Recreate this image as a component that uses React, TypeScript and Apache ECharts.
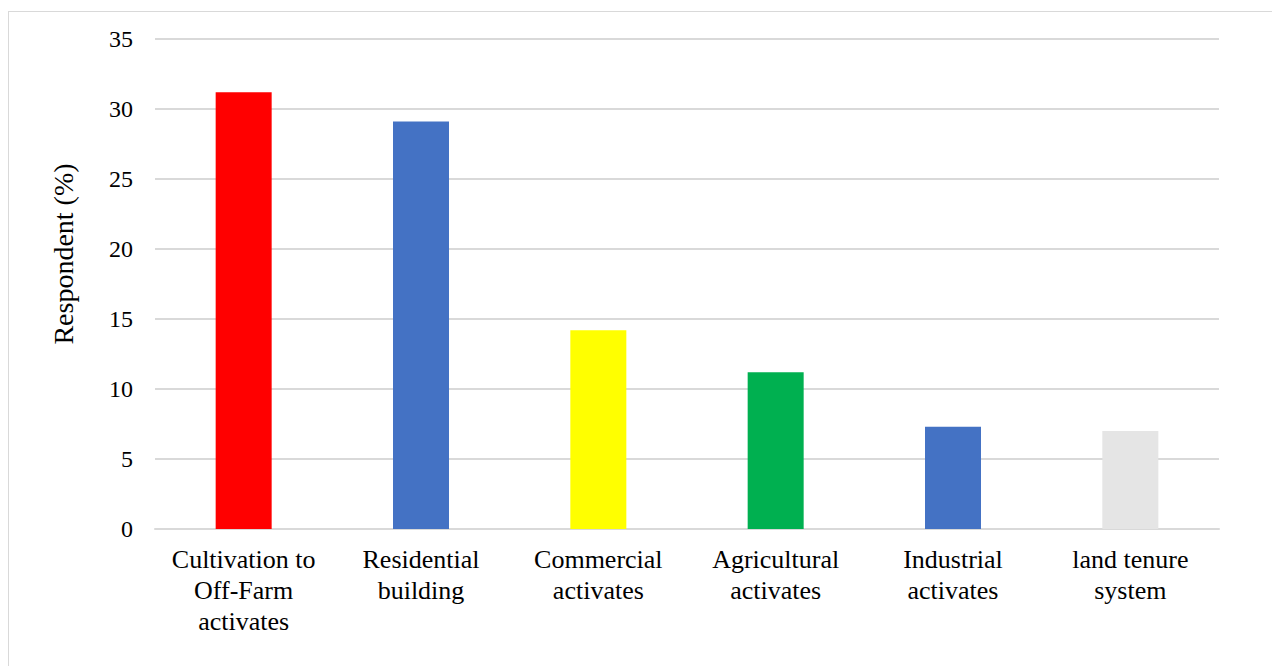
import React, { useEffect, useRef } from "react";
import * as echarts from "echarts";

const categories = [
  "Cultivation to\nOff-Farm\nactivates",
  "Residential\nbuilding",
  "Commercial\nactivates",
  "Agricultural\nactivates",
  "Industrial\nactivates",
  "land tenure\nsystem",
];
const values = [31.2, 29.1, 14.2, 11.2, 7.3, 7.0];
const barColors = ["#FF0000", "#4472C4", "#FFFF00", "#00B050", "#4472C4", "#E5E5E5"];
const yTicks = { min: 0, max: 35, interval: 5 };
const yAxisTitle = "Respondent (%)";

const FONT = "'Liberation Serif', 'Times New Roman', serif";

export default function App() {
  const ref = useRef<HTMLDivElement>(null);
  useEffect(() => {
    if (!ref.current) return;
    const chart = echarts.init(ref.current, null, { renderer: "svg" });
    chart.setOption({
      animation: false,
      backgroundColor: "#ffffff",
      grid: { left: 146, right: 57, top: 27, bottom: 137, containLabel: false },
      graphic: [
        {
          type: "text",
          x: 54,
          y: 242,
          rotation: Math.PI / 2,
          style: {
            text: yAxisTitle,
            fill: "#000",
            font: `28px ${FONT}`,
            align: "center",
            verticalAlign: "middle",
          },
        },
      ],
      xAxis: {
        type: "category",
        data: categories,
        axisLine: { show: true, lineStyle: { color: "#d9d9d9", width: 2 } },
        axisTick: { show: false },
        axisLabel: {
          interval: 0,
          color: "#000",
          fontFamily: FONT,
          fontSize: 26,
          lineHeight: 31,
          margin: 15,
        },
      },
      yAxis: {
        type: "value",
        min: yTicks.min,
        max: yTicks.max,
        interval: yTicks.interval,
        axisLine: { show: false },
        axisTick: { show: false },
        axisLabel: { color: "#000", fontFamily: FONT, fontSize: 24, margin: 22 },
        splitLine: { lineStyle: { color: "#d9d9d9", width: 2 } },
      },
      series: [
        {
          type: "bar",
          barWidth: 56,
          data: values.map((v, i) => ({ value: v, itemStyle: { color: barColors[i] } })),
        },
      ],
    });
    return () => chart.dispose();
  }, []);
  return (
    <div
      style={{
        marginTop: 3,
        width: 1269,
        height: 700,
        borderTop: "1px solid #d9d9d9",
        borderLeft: "1px solid #d9d9d9",
        borderRight: "1px solid #d9d9d9",
        boxSizing: "border-box",
      }}
    >
      <div ref={ref} style={{ width: 1267, height: 654 }} />
    </div>
  );
}
